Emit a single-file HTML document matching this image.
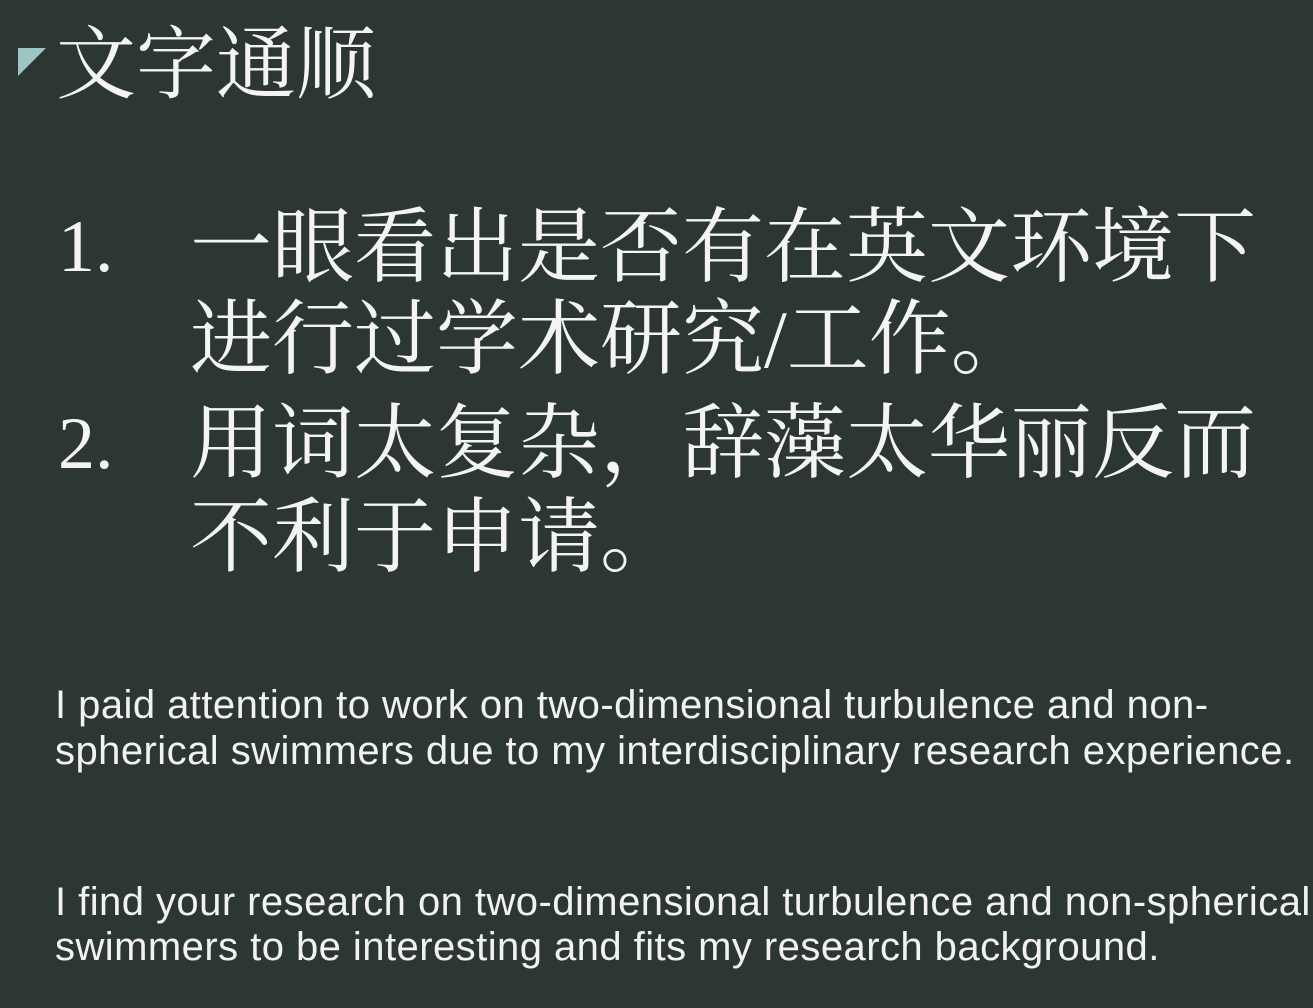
<!DOCTYPE html>
<html><head><meta charset="utf-8"><style>
html,body{margin:0;padding:0}
body{width:1313px;height:1008px;background:#2c3733;position:relative;overflow:hidden;color:#f4f4f4}
.cj{position:absolute;font-family:"Liberation Serif","Noto Serif CJK SC",serif;white-space:nowrap;line-height:1}
.en{position:absolute;font-family:"Liberation Sans",sans-serif;font-size:40px;letter-spacing:0.45px;white-space:nowrap;line-height:1;color:#f2f2f2}
</style></head><body>
<div style="position:absolute;left:18px;top:48px;width:0;height:0;border-top:28px solid #9fc4c4;border-right:28px solid transparent"></div>
<div class="cj" style="left:56px;top:26px;font-size:80px">文字通顺</div>
<div class="cj" style="left:58px;top:210px;font-size:74px">1.</div>
<div class="cj" style="left:190px;top:207px;font-size:82px">一眼看出是否有在英文环境下</div>
<div class="cj" style="left:190px;top:299px;font-size:82px">进行过学术研究/工作。</div>
<div class="cj" style="left:58px;top:407px;font-size:74px">2.</div>
<div class="cj" style="left:190px;top:403px;font-size:82px">用词太复杂，辞藻太华丽反而</div>
<div class="cj" style="left:190px;top:497px;font-size:82px">不利于申请。</div>
<div class="en" style="left:55px;top:685px">I paid attention to work on two-dimensional turbulence and non-</div>
<div class="en" style="left:55px;top:731px">spherical swimmers due to my interdisciplinary research experience.</div>
<div class="en" style="left:55px;top:882px">I find your research on two-dimensional turbulence and non-spherical</div>
<div class="en" style="left:55px;top:927px">swimmers to be interesting and fits my research background.</div>
</body></html>
